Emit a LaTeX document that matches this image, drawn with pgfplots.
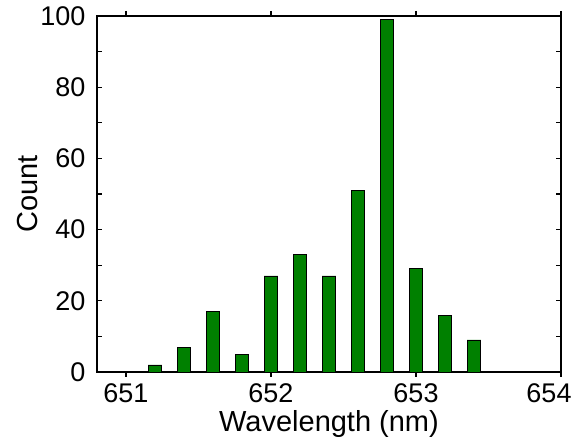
\documentclass[border=0pt]{standalone}
\usepackage{pgfplots}
\pgfplotsset{compat=1.18}
\usepackage{fontspec}
\setmainfont{Liberation Sans}
\definecolor{bargreen}{RGB}{0,128,0}
\begin{document}
\begin{tikzpicture}
\useasboundingbox (-97pt,-66pt) rectangle (482pt,372pt);
\begin{axis}[
  at={(0,0)}, anchor=south west,
  scale only axis,
  width=464pt, height=356pt,
  xmin=650.8, xmax=654, ymin=0, ymax=100,
  xtick={651,652,653,654},
  xticklabels={651,652,653,\hspace*{-24pt}654},
  ytick={0,20,40,60,80,100},
  minor ytick={10,30,50,70,90},
  minor xtick={},
  tick align=inside,
  major tick length=5pt, minor tick length=5pt,
  tick style={black, line width=1.1pt},
  axis line style={line width=1.3pt},
  /pgf/number format/assume math mode=true,
  /pgf/number format/1000 sep={},
  xticklabel style={font=\fontsize{27}{30}\selectfont, yshift=-3pt},
  yticklabel style={font=\fontsize{27}{30}\selectfont, xshift=-8pt},
  xlabel={Wavelength (nm)}, ylabel={Count},
  label style={font=\fontsize{29}{32}\selectfont},
  xlabel style={yshift=-1pt},
  ylabel style={yshift=-4pt},
  ybar, bar width=0.094,
  bar shift=0pt,
]
\addplot[fill=bargreen, draw=black, line width=0.7pt] coordinates {
(651.2,2) (651.4,7) (651.6,17) (651.8,5) (652.0,27) (652.2,33)
(652.4,27) (652.6,51) (652.8,99) (653.0,29) (653.2,16) (653.4,9)
};
\end{axis}
\end{tikzpicture}
\end{document}
